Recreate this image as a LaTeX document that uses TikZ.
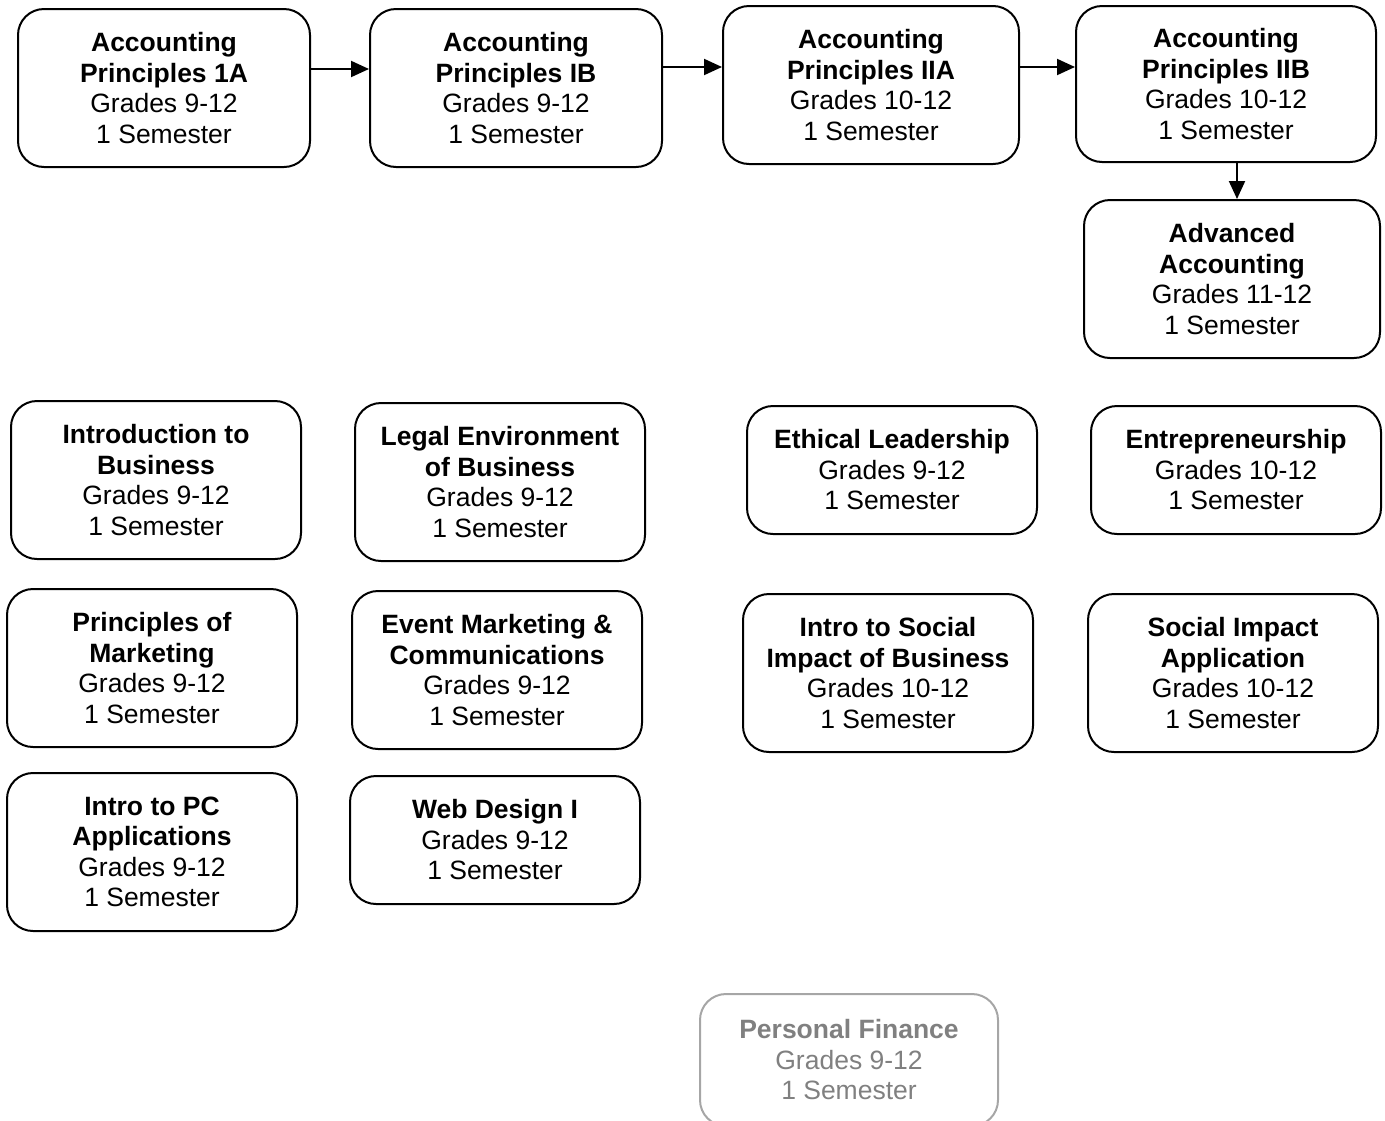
\documentclass[tikz,border=0pt]{standalone}
\usepackage{fontspec}
\setmainfont{Liberation Sans}
\usetikzlibrary{arrows.meta}

\begin{document}
\begin{tikzpicture}[
    x=0.5pt,y=-0.5pt,
    course/.style={draw,line width=1pt,rounded corners=13pt,align=center,
        minimum width=146pt,minimum height=79pt,
        font={\fontsize{13.25}{15.25}\selectfont}},
    short/.style={course,minimum height=64pt},
    faded/.style={course,draw=black!35,text=black!50,minimum height=66pt},
    flow/.style={-{Triangle[length=9pt,width=8pt]},line width=1pt},
    ]
    \useasboundingbox (0,0) rectangle (1385,1120);
    % Accounting track
    \node[course] (ap1a) at (164,88)
        {\textbf{Accounting}\\\textbf{Principles 1A}\\Grades 9-12\\1 Semester};
    \node[course] (ap1b) at (516,88)
        {\textbf{Accounting}\\\textbf{Principles IB}\\Grades 9-12\\1 Semester};
    \node[course,minimum width=148pt] (ap2a) at (871,85)
        {\textbf{Accounting}\\\textbf{Principles IIA}\\Grades 10-12\\1 Semester};
    \node[course,minimum width=150pt,minimum height=78pt] (ap2b) at (1226,84)
        {\textbf{Accounting}\\\textbf{Principles IIB}\\Grades 10-12\\1 Semester};
    \node[course,minimum width=148pt] (adv) at (1232,279)
        {\textbf{Advanced}\\\textbf{Accounting}\\Grades 11-12\\1 Semester};
    \draw[flow] ([yshift=9.5pt]ap1a.east) -- ([yshift=9.5pt]ap1a.east -| ap1b.west);
    \draw[flow] ([yshift=10.5pt]ap1b.east) -- ([yshift=10.5pt]ap1b.east -| ap2a.west);
    \draw[flow] ([yshift=9pt]ap2a.east) -- ([yshift=9pt]ap2a.east -| ap2b.west);
    \draw[flow] ([xshift=5.5pt]ap2b.south) -- ([xshift=5.5pt]ap2b.south |- adv.north);
    % Stand-alone courses, row 1
    \node[course,minimum width=145pt] (intbus) at (156,480)
        {\textbf{Introduction to}\\\textbf{Business}\\Grades 9-12\\1 Semester};
    \node[course,minimum width=145pt] (legal) at (500,482)
        {\textbf{Legal Environment}\\\textbf{of Business}\\Grades 9-12\\1 Semester};
    \node[short,minimum width=145pt] (ethic) at (892,470)
        {\textbf{Ethical Leadership}\\Grades 9-12\\1 Semester};
    \node[short,minimum width=145pt] (entre) at (1236,470)
        {\textbf{Entrepreneurship}\\Grades 10-12\\1 Semester};
    % Row 2
    \node[course,minimum width=145pt] (mkt) at (152,668)
        {\textbf{Principles of}\\\textbf{Marketing}\\Grades 9-12\\1 Semester};
    \node[course,minimum width=145pt] (event) at (497,670)
        {\textbf{Event Marketing \&}\\\textbf{Communications}\\Grades 9-12\\1 Semester};
    \node[course,minimum width=145pt] (social) at (888,673)
        {\textbf{Intro to Social}\\\textbf{Impact of Business}\\Grades 10-12\\1 Semester};
    \node[course,minimum width=145pt] (socapp) at (1233,673)
        {\textbf{Social Impact}\\\textbf{Application}\\Grades 10-12\\1 Semester};
    % Row 3
    \node[course,minimum width=145pt] (pcapp) at (152,852)
        {\textbf{Intro to PC}\\\textbf{Applications}\\Grades 9-12\\1 Semester};
    \node[short,minimum width=145pt] (web) at (495,840)
        {\textbf{Web Design I}\\Grades 9-12\\1 Semester};
    % Greyed out
    \node[faded,minimum width=149pt] (pfin) at (849,1060)
        {\textbf{Personal Finance}\\Grades 9-12\\1 Semester};
\end{tikzpicture}
\end{document}
